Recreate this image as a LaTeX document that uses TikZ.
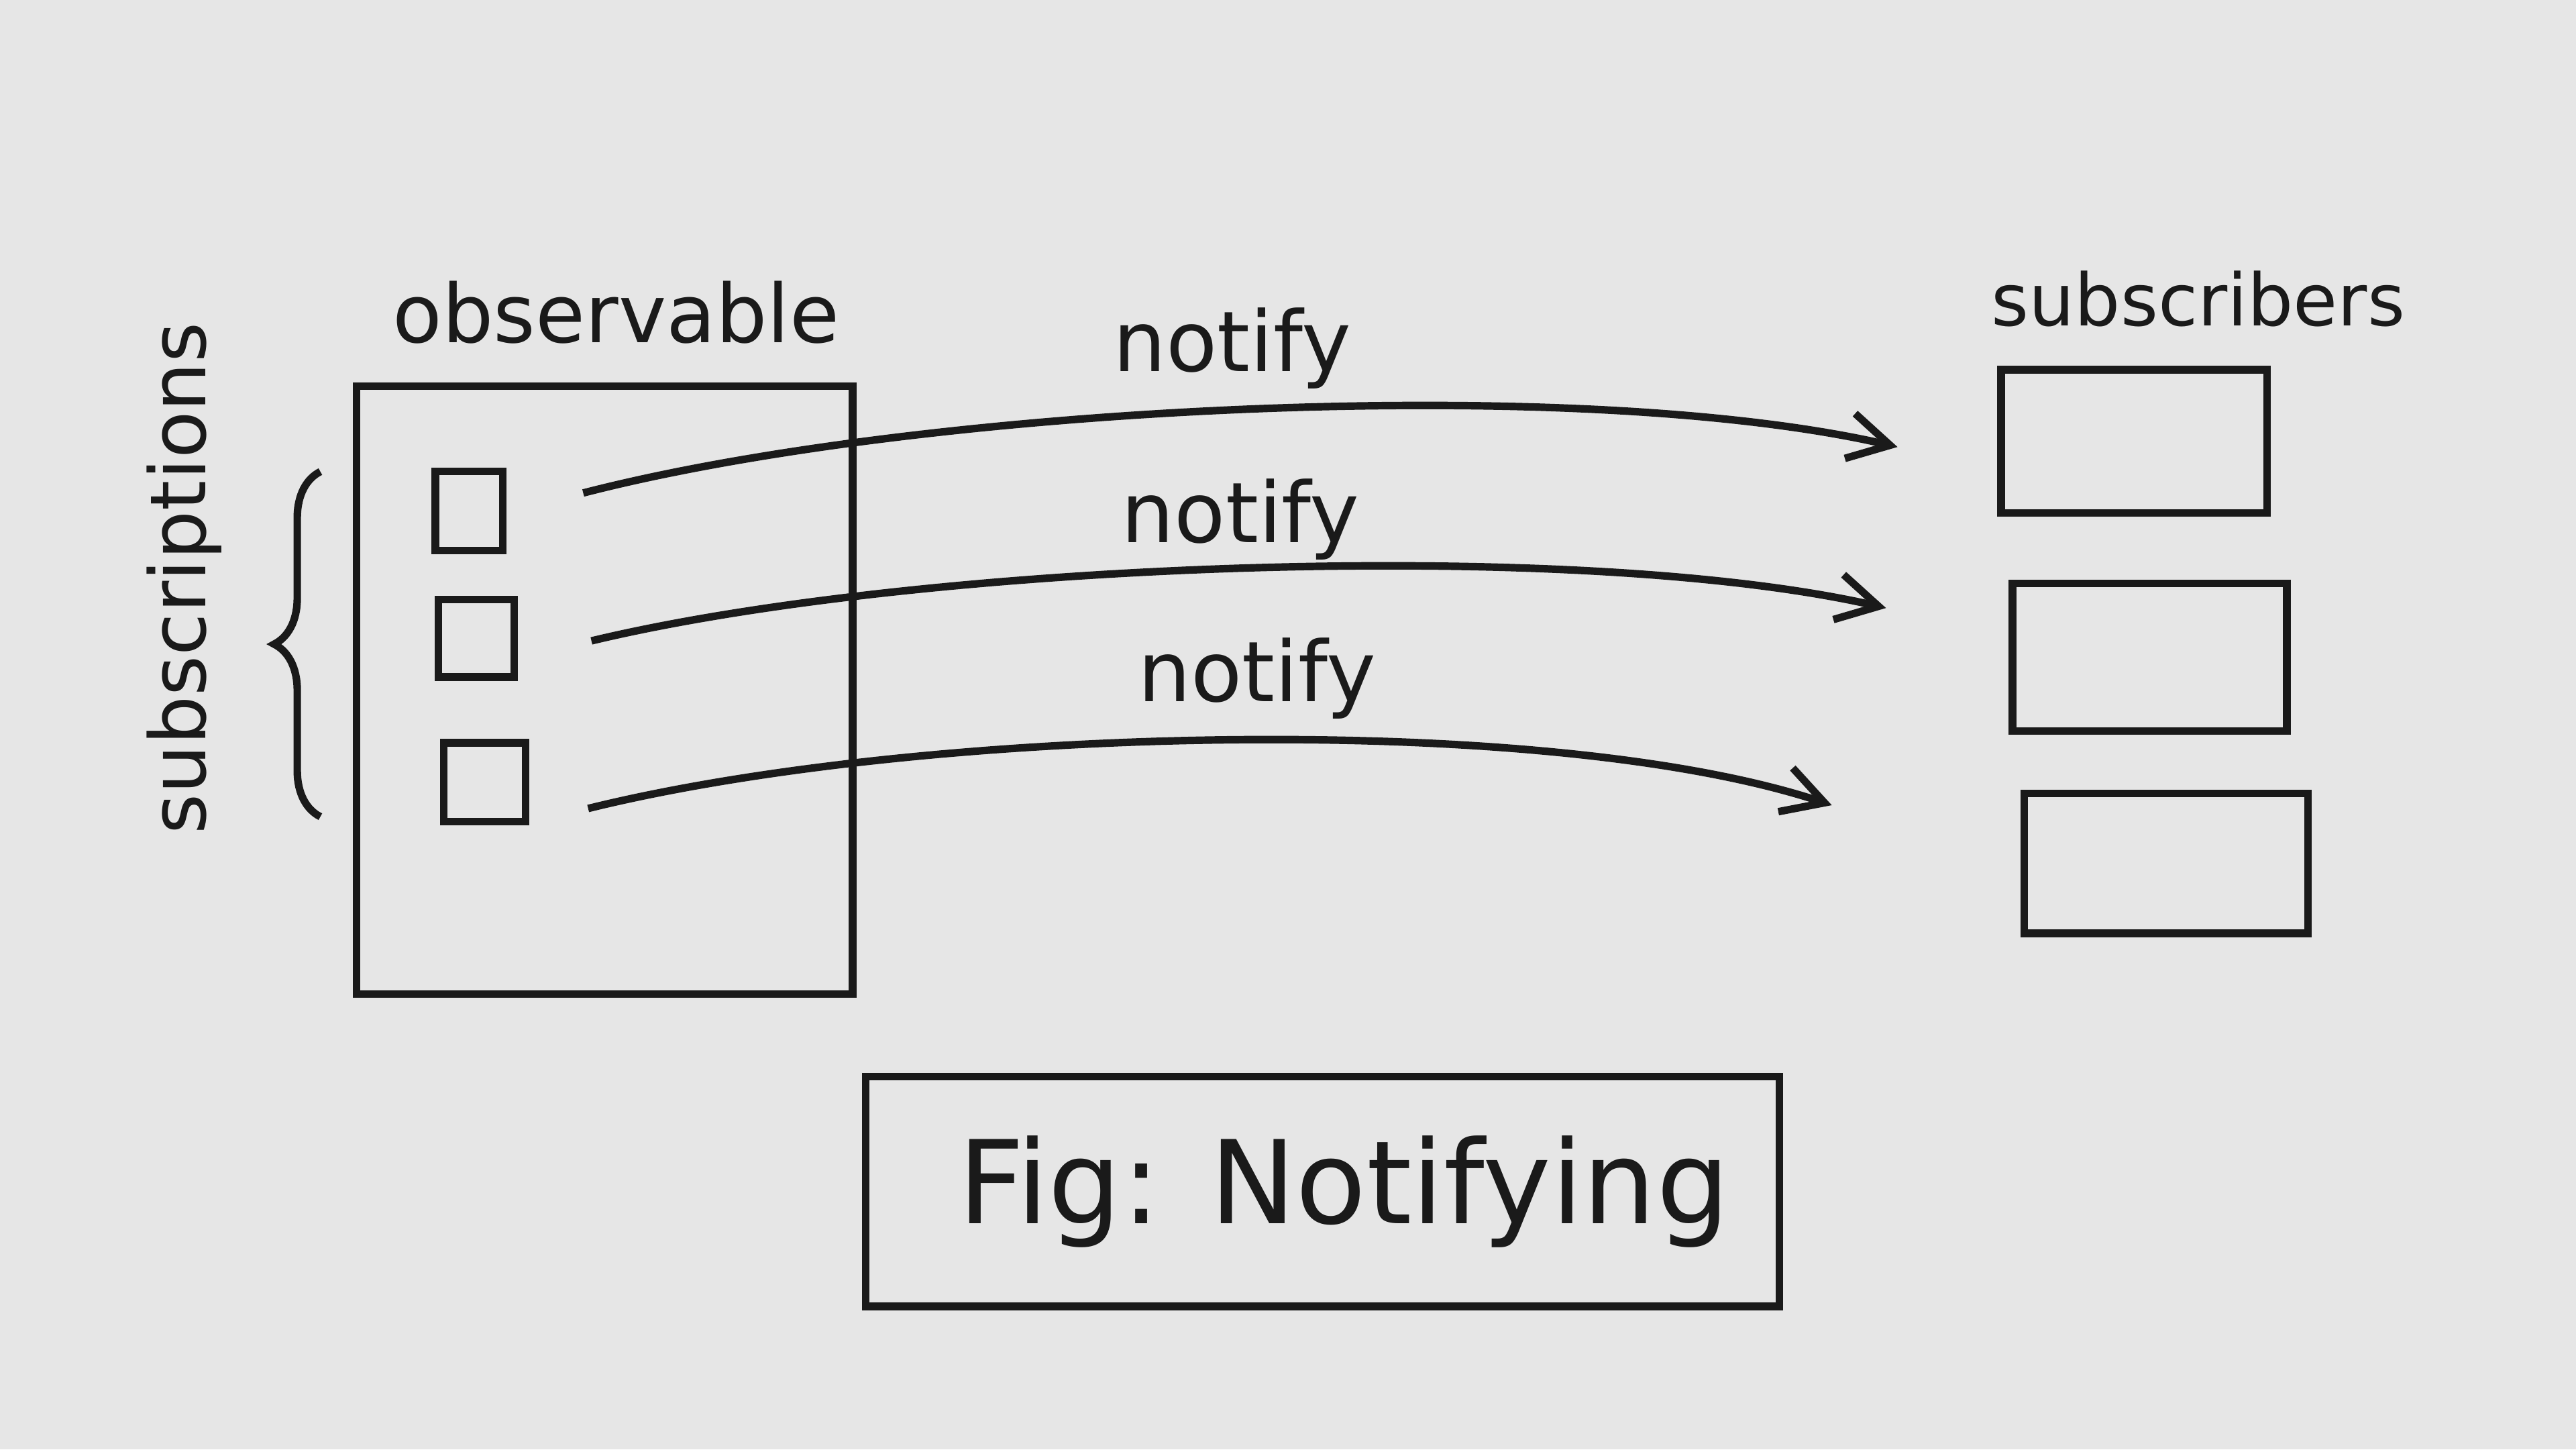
\documentclass[tikz,border=0pt]{standalone}
\usepackage{fontspec}
\setmainfont{DejaVu Sans}
\usetikzlibrary{arrows.meta,decorations.pathreplacing}
\definecolor{paper}{HTML}{E6E6E6}
\definecolor{ink}{HTML}{1A1A1A}
\begin{document}
\begin{tikzpicture}[
  ink/.style={draw=ink, line width=1.3pt},
  box/.style={ink, rectangle, inner sep=0pt},
  lbl/.style={text=ink, inner sep=0pt, font=\fontsize{14}{17}\selectfont},
  arr/.style={ink, -{Straight Barb[length=2.5mm,width=2.8mm]}}
]
\fill[paper] (0,0) rectangle (15.68,8.82);
\useasboundingbox (0,0) rectangle (15.68,8.82);

% observable
\node[box, minimum width=3.02cm, minimum height=3.70cm] (obs) at (3.68,4.62) {};
\node[lbl] (obslbl) at (3.75,6.92) {observable};
\node[box, minimum width=0.41cm, minimum height=0.48cm] (s1) at (2.855,5.71) {};
\node[box, minimum width=0.46cm, minimum height=0.47cm] (s2) at (2.90,4.935) {};
\node[box, minimum width=0.50cm, minimum height=0.48cm] (s3) at (2.95,4.06) {};

% brace and label
\coordinate (bt) at (1.95,5.95);
\coordinate (bb) at (1.95,3.85);
\draw[ink, decorate, decoration={brace, amplitude=8pt}] (bb) -- (bt);
\node[lbl, rotate=90, font=\fontsize{13.4}{16}\selectfont] (subs) at (1.12,5.30) {subscriptions};

% subscribers
\node[lbl, font=\fontsize{12.5}{15}\selectfont] (sublbl) at (13.38,7.00) {subscribers};
\node[box, minimum width=1.62cm, minimum height=0.87cm] (r1) at (12.99,6.135) {};
\node[box, minimum width=1.67cm, minimum height=0.90cm] (r2) at (13.085,4.82) {};
\node[box, minimum width=1.73cm, minimum height=0.85cm] (r3) at (13.185,3.565) {};

% arrows
\coordinate (a1s) at (3.55,5.82);
\coordinate (a1e) at (11.55,6.10);
\coordinate (a2s) at (3.60,4.92);
\coordinate (a2e) at (11.48,5.12);
\coordinate (a3s) at (3.58,3.90);
\coordinate (a3e) at (11.15,3.92);
\draw[arr] (a1s) .. controls (5.6,6.35) and (9.6,6.55) .. (a1e);
\draw[arr] (a2s) .. controls (5.6,5.40) and (9.6,5.55) .. (a2e);
\draw[arr] (a3s) .. controls (5.6,4.40) and (9.4,4.50) .. (a3e);
\node[lbl, font=\fontsize{14.5}{17}\selectfont] (n1) at (7.50,6.70) {notify};
\node[lbl, font=\fontsize{14.5}{17}\selectfont] (n2) at (7.55,5.66) {notify};
\node[lbl, font=\fontsize{14.5}{17}\selectfont] (n3) at (7.65,4.69) {notify};

% caption
\node[box, minimum width=5.56cm, minimum height=1.40cm] (fig) at (8.05,1.57) {};
\node[lbl, font=\fontsize{20}{24}\selectfont] (figtxt) at (8.18,1.57) {Fig: Notifying};
\end{tikzpicture}
\end{document}
